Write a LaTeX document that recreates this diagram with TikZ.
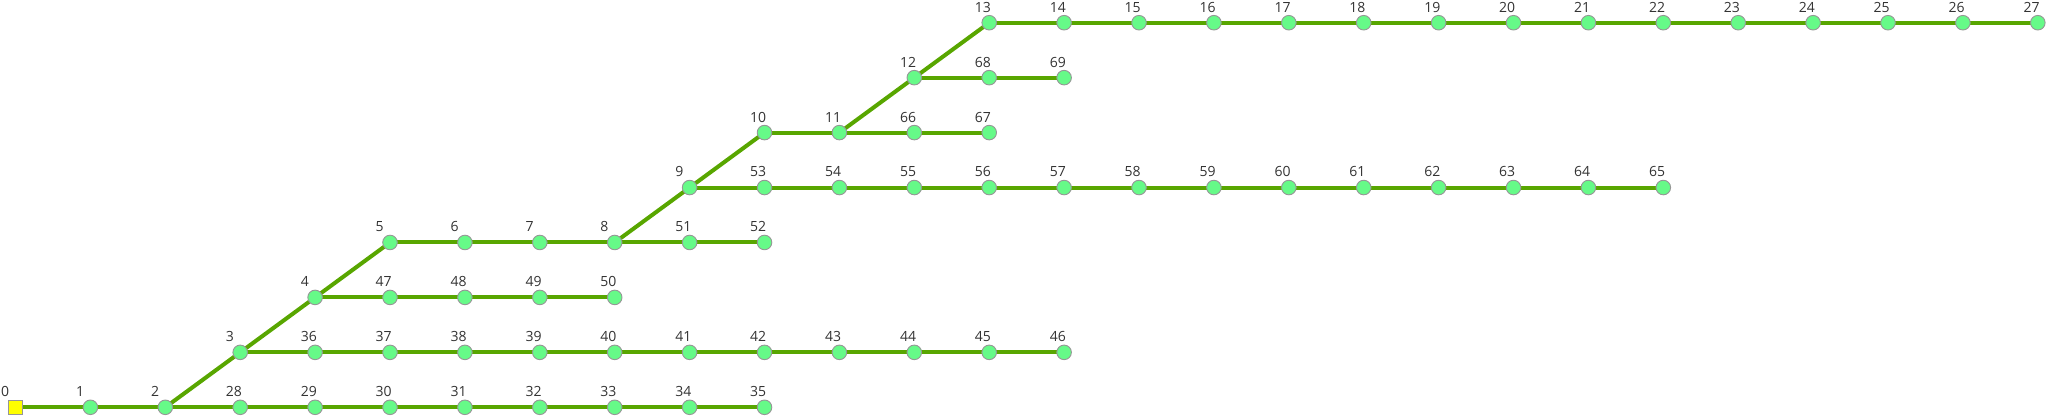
\documentclass[tikz,border=0pt]{standalone}
\usepackage{fontspec}
\setmainfont{Open Sans}
\usetikzlibrary{backgrounds}
\definecolor{edgegreen}{RGB}{88,166,0}
\definecolor{nodefill}{RGB}{102,250,136}
\definecolor{nodeborder}{RGB}{150,150,150}
\definecolor{labeltext}{RGB}{51,51,51}
\definecolor{rootfill}{RGB}{255,255,0}
\tikzset{
  vert/.style={circle, draw=nodeborder, fill=nodefill, line width=0.9pt, minimum size=14.6pt, inner sep=0pt},
  rootbox/.style={rectangle, draw=nodeborder, fill=rootfill, line width=0.9pt, minimum size=14.6pt, inner sep=0pt},
  edge/.style={draw=edgegreen, line width=4pt},
  lbl/.style={anchor=base west, inner sep=0pt, text=labeltext, font=\fontsize{14}{16}\selectfont}
}
\begin{document}
\begin{tikzpicture}[x=1pt,y=1pt]
\useasboundingbox (0,0) rectangle (2047,416);
\pgfmathsetmacro{\dx}{74.9}
\pgfmathsetmacro{\dy}{54.94}
% root
\node[rootbox] (n0) at (15.5,8.7) {};
\node[lbl] (l0) at (1,19.3) {0};
\foreach \id/\c/\r in {1/1/0,2/2/0,28/3/0,29/4/0,30/5/0,31/6/0,32/7/0,33/8/0,34/9/0,35/10/0,
  3/3/1,36/4/1,37/5/1,38/6/1,39/7/1,40/8/1,41/9/1,42/10/1,43/11/1,44/12/1,45/13/1,46/14/1,
  4/4/2,47/5/2,48/6/2,49/7/2,50/8/2,
  5/5/3,6/6/3,7/7/3,8/8/3,51/9/3,52/10/3,
  9/9/4,53/10/4,54/11/4,55/12/4,56/13/4,57/14/4,58/15/4,59/16/4,60/17/4,61/18/4,62/19/4,63/20/4,64/21/4,65/22/4,
  10/10/5,11/11/5,66/12/5,67/13/5,
  12/12/6,68/13/6,69/14/6,
  13/13/7,14/14/7,15/15/7,16/16/7,17/17/7,18/18/7,19/19/7,20/20/7,21/21/7,22/22/7,23/23/7,24/24/7,25/25/7,26/26/7,27/27/7}{
  \node[vert] (n\id) at ({15.5+\dx*\c},{8.7+\dy*\r}) {};
  \node[lbl] (l\id) at ({15.5+\dx*\c-14.5},{8.7+\dy*\r+10.6}) {\id};
}
\begin{scope}[on background layer]
\foreach \a/\b in {0/1,1/2,2/28,28/29,29/30,30/31,31/32,32/33,33/34,34/35,
  2/3,3/36,36/37,37/38,38/39,39/40,40/41,41/42,42/43,43/44,44/45,45/46,
  3/4,4/47,47/48,48/49,49/50,
  4/5,5/6,6/7,7/8,8/51,51/52,
  8/9,9/53,53/54,54/55,55/56,56/57,57/58,58/59,59/60,60/61,61/62,62/63,63/64,64/65,
  9/10,10/11,11/66,66/67,
  11/12,12/68,68/69,
  12/13,13/14,14/15,15/16,16/17,17/18,18/19,19/20,20/21,21/22,22/23,23/24,24/25,25/26,26/27}{
  \draw[edge] (n\a.center) -- (n\b.center);
}
\end{scope}
\end{tikzpicture}
\end{document}
